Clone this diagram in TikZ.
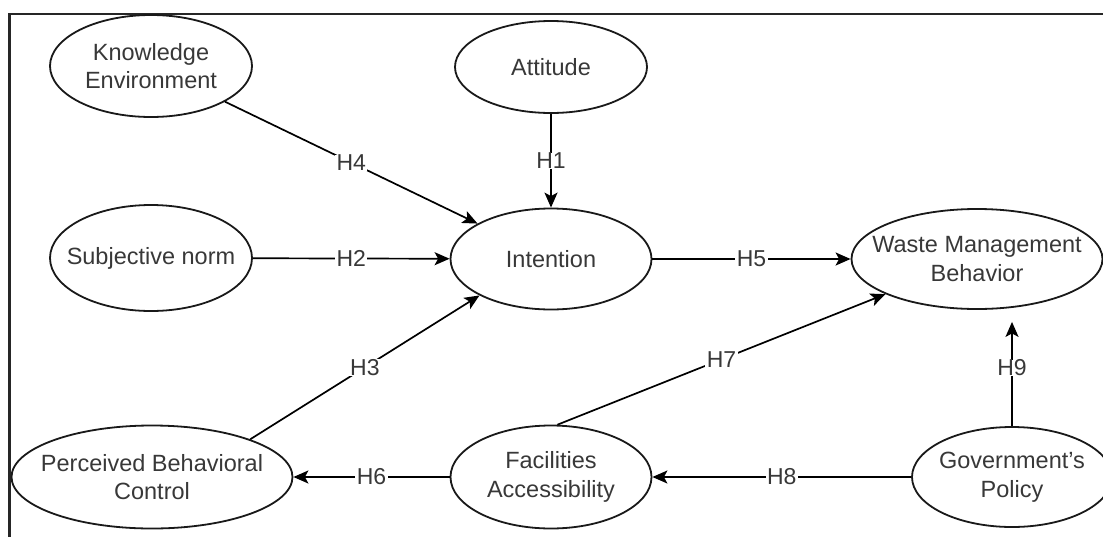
\documentclass[tikz,border=0pt]{standalone}
\usepackage{fontspec}
\setmainfont{Liberation Sans}
\usetikzlibrary{arrows.meta,shapes.geometric}
\begin{document}
\begin{tikzpicture}[x=1pt,y=-1pt,
  construct/.style={ellipse, draw=black!90, line width=1.8pt, fill=white, inner sep=0pt},
  caption/.style={align=center, text=black!78, inner sep=0pt, font=\fontsize{23.5}{28.5}\selectfont},
  link/.style={draw=black, line width=1.7pt, -{Stealth[length=15pt,width=13pt,inset=3.5pt]}},
  hyp/.style={fill=white, inner xsep=1.5pt, inner ysep=0pt, text=black!78, font=\fontsize{23}{27}\selectfont}]
  % canvas
  \useasboundingbox (0,0) rectangle (1103,536);
  \fill[white] (0,0) rectangle (1103,536);
  \clip (0,0) rectangle (1103,536);
  % frame (top and left edges)
  \draw[line width=2.2pt, black!85] (9.5,540) -- (9.5,14) -- (1110,14);

  % constructs
  \node[construct, minimum width=202pt, minimum height=102pt] (ke)  at (151,66)  {};
  \node[construct, minimum width=192pt, minimum height=92pt]  (att) at (551,67)  {};
  \node[construct, minimum width=202pt, minimum height=106pt] (sn)  at (151,258) {};
  \node[construct, minimum width=201pt, minimum height=101pt] (int) at (551,259) {};
  \node[construct, minimum width=251pt, minimum height=100pt] (wmb) at (977,259) {};
  \node[construct, minimum width=281pt, minimum height=103pt] (pbc) at (152,477) {};
  \node[construct, minimum width=201pt, minimum height=103pt] (fac) at (551,477) {};
  \node[construct, minimum width=200pt, minimum height=100pt] (gov) at (1012,477) {};

  % construct names
  \node[caption] (ke-t)  at (ke)  {Knowledge\\Environment};
  \node[caption] (att-t) at (att) {Attitude};
  \node[caption] (sn-t)  at (sn)  {Subjective norm};
  \node[caption] (int-t) at (int) {Intention};
  \node[caption] (wmb-t) at (wmb) {Waste Management\\Behavior};
  \node[caption] (pbc-t) at (pbc) {Perceived Behavioral\\Control};
  \node[caption] (fac-t) at (fac) {Facilities\\Accessibility};
  \node[caption] (gov-t) at (gov) {Government's\\Policy};

  % hypothesised paths
  \draw[link] (att) -- node[hyp] (h1) {H1} (int);
  \draw[link] (sn) -- node[hyp] (h2) {H2} (int);
  \draw[link] (pbc.21) -- node[hyp] (h3) {H3} (int.207);
  \draw[link] (ke) -- node[hyp] (h4) {H4} (int);
  \draw[link] (int) -- node[hyp] (h5) {H5} (wmb);
  \draw[link] (fac) -- node[hyp] (h6) {H6} (pbc);
  \draw[link] (fac.83) -- node[hyp] (h7) {H7} (wmb.201.5);
  \draw[link] (gov) -- node[hyp] (h8) {H8} (fac);
  \draw[link, shorten >=12pt] (gov.north) -- node[hyp] (h9) {H9} (gov.north |- wmb.south);
\end{tikzpicture}
\end{document}
